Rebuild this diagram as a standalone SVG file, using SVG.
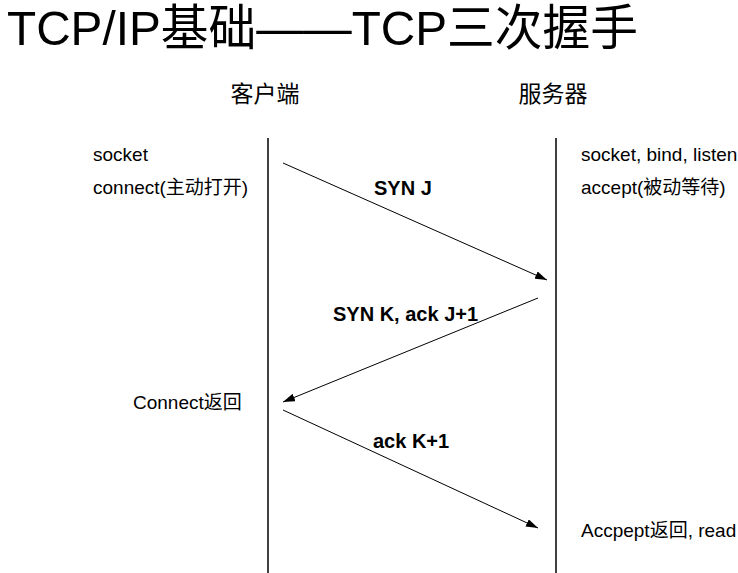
<svg xmlns="http://www.w3.org/2000/svg" width="738" height="573" viewBox="0 0 738 573">
<style>
text{font-family:"Liberation Sans","Noto Sans CJK SC",sans-serif;fill:#000}
.t{font-size:19px}
.b{font-size:20px;font-weight:bold}
.h{font-size:23px}
.ttl{font-size:49px}
.life{stroke:#000;stroke-width:1.5}
.msg{stroke:#000;stroke-width:1;fill:none;marker-end:url(#ah)}
</style>
<defs>
<marker id="ah" markerWidth="12" markerHeight="8" refX="12" refY="4" orient="auto" markerUnits="userSpaceOnUse">
<path d="M0,0 L12,4 L0,8 Z" fill="#000"/>
</marker>
</defs>
<rect width="738" height="573" fill="#fff"/>
<g id="title"><text class="ttl" x="7" y="45" textLength="631" lengthAdjust="spacingAndGlyphs">TCP/IP基础——TCP三次握手</text></g>
<g id="client">
<text class="h" x="265" y="102" text-anchor="middle">客户端</text>
<line class="life" x1="268" y1="138" x2="268" y2="573"/>
<text class="t" x="93" y="161">socket</text>
<text class="t" x="93" y="194">connect(主动打开)</text>
<text class="t" x="133" y="409">Connect返回</text>
</g>
<g id="server">
<text class="h" x="553" y="102" text-anchor="middle">服务器</text>
<line class="life" x1="556" y1="138" x2="556" y2="573"/>
<text class="t" x="581" y="161">socket, bind, listen</text>
<text class="t" x="581" y="194">accept(被动等待)</text>
<text class="t" x="581" y="537">Accpept返回, read</text>
</g>
<g id="connectors">
<line class="msg" x1="283" y1="163" x2="547" y2="280"/>
<line class="msg" x1="538" y1="298" x2="283" y2="402"/>
<line class="msg" x1="283" y1="410" x2="538" y2="528"/>
<text class="b" x="374" y="195">SYN J</text>
<text class="b" x="333" y="321">SYN K, ack J+1</text>
<text class="b" x="373" y="448">ack K+1</text>
</g>
</svg>
